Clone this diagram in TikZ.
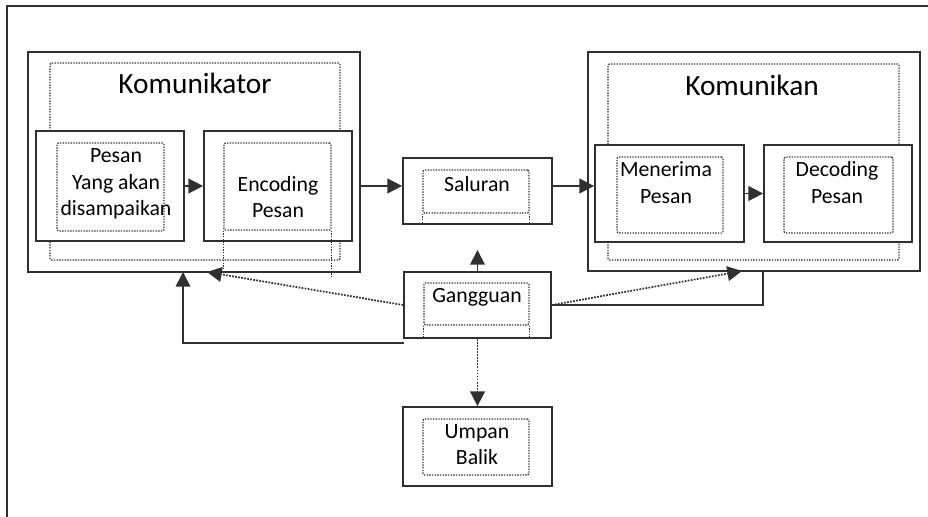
\documentclass[tikz,border=0pt]{standalone}
\usepackage{fontspec}
\setmainfont{Carlito}
\usepackage{tikz}
\usetikzlibrary{arrows.meta}
\definecolor{linegray}{HTML}{303030}

\begin{document}
\begin{tikzpicture}[x=0.75pt,y=-0.75pt,
  box/.style={draw=linegray, line width=1.3pt, inner sep=0pt},
  dotbox/.style={draw=linegray, densely dotted, line width=1pt, inner sep=0pt, rounded corners=1pt},
  lbl/.style={font=\fontsize{16.3}{20}\selectfont, align=center, inner sep=0pt, text=black},
  title/.style={font=\fontsize{22}{26}\selectfont, inner sep=0pt, text=black},
  arr/.style={draw=linegray, line width=1.3pt, -{Triangle[length=11pt,width=11pt]}},
  dotarr/.style={draw=linegray, densely dotted, line width=1.3pt, -{Triangle[length=11pt,width=11pt]}}]
\useasboundingbox (0,0) rectangle (928,517);

% outer frame (only top and left edge)
\draw[linegray, line width=1.3pt] (7,517) -- (7,6) -- (928,6);

% komunikator
\node[box, minimum width=249pt, minimum height=165pt] (komtor) at (194,162) {};
\node[dotbox, minimum width=217.5pt, minimum height=147.75pt] (komtordot) at (195,161.5) {};
\node[title] (komtortxt) at (195,83) {Komunikator};

\node[box, fill=white, minimum width=111pt, minimum height=82.5pt] (pesan) at (110,186) {};
\node[dotbox, minimum width=80.25pt, minimum height=66pt] (pesandot) at (110.5,187) {};
\node[lbl] (pesantxt) at (116,184) {Pesan\\Yang akan\\disampaikan};

\node[box, fill=white, minimum width=111pt, minimum height=82.5pt] (encoding) at (278,186) {};
\node[dotbox, minimum width=80.25pt, minimum height=65.25pt] (encodingdot) at (277.5,186.5) {};
\draw[linegray, densely dotted, line width=1pt] (encodingdot.south west) -- ++(0,42);
\draw[linegray, densely dotted, line width=1pt] (encodingdot.south east) -- ++(0,47);
\node[lbl] (encodingtxt) at (278,197) {Encoding\\Pesan};

% saluran
\node[box, minimum width=111.75pt, minimum height=49.5pt] (saluran) at (477.5,191) {};
\node[dotbox, minimum width=79.5pt, minimum height=32.25pt] (salurandot) at (476,191.5) {};
\draw[linegray, densely dotted, line width=1pt] (salurandot.south west) -- (salurandot.south west |- saluran.south);
\draw[linegray, densely dotted, line width=1pt] (salurandot.south east) -- (salurandot.south east |- saluran.south);
\node[lbl] (salurantxt) at (477,184) {Saluran};

% komunikan
\node[box, minimum width=249pt, minimum height=164.25pt] (komkan) at (754,161.5) {};
\node[dotbox, minimum width=218.25pt, minimum height=147pt] (komkandot) at (753.5,162) {};
\node[title] (komkantxt) at (752,85) {Komunikan};

\node[box, fill=white, minimum width=111.75pt, minimum height=72.75pt] (menerima) at (669.5,193.5) {};
\node[dotbox, minimum width=79.5pt, minimum height=57pt] (menerimadot) at (670,195) {};
\node[lbl] (menerimatxt) at (666,182.5) {Menerima\\Pesan};

\node[box, fill=white, minimum width=111pt, minimum height=72.75pt] (decoding) at (838,193.5) {};
\node[dotbox, minimum width=81.75pt, minimum height=57pt] (decodingdot) at (838.5,195) {};
\node[lbl] (decodingtxt) at (837,182.5) {Decoding\\Pesan};

% gangguan
\node[box, minimum width=110.25pt, minimum height=49.5pt] (gangguan) at (477.5,305) {};
\node[dotbox, minimum width=78.75pt, minimum height=31.5pt] (gangguandot) at (476.5,304) {};
\draw[linegray, densely dotted, line width=1pt] (gangguandot.south west) -- (gangguandot.south west |- gangguan.south);
\draw[linegray, densely dotted, line width=1pt] (gangguandot.south east) -- (gangguandot.south east |- gangguan.south);
\node[lbl] (gangguantxt) at (477,297) {Gangguan};

% umpan balik
\node[box, minimum width=111.75pt, minimum height=59.25pt] (umpan) at (477.5,446.5) {};
\node[dotbox, minimum width=79.5pt, minimum height=42pt] (umpandot) at (476,447) {};
\node[lbl] (umpantxt) at (477,444.5) {Umpan\\Balik};

% free ends
\coordinate (gup) at (477.5,250);
\coordinate (ktorin) at (207,272);
\coordinate (fbstart) at (404,343);
\coordinate (fbin) at (183,272);
\coordinate (kkanin) at (742,271);

% arrows
\draw[arr] (pesan) -- (encoding);
\draw[arr] (komtor.east |- encoding) -- (saluran.west |- encoding);
\draw[arr] (saluran.east |- encoding) -- (menerima.west |- encoding);
\draw[arr] (menerima) -- (decoding);
\draw[arr] (gangguan.north) -- (gup);
\draw[dotarr] (gangguan.west) -- (ktorin);
\draw[arr] (fbstart) -| (fbin);
\draw[dotarr] (gangguan.east) -- (kkanin);
\draw[linegray, line width=1.3pt] (gangguan.east) -| (komkan.south -| decoding.west);
\draw[dotarr] (gangguan.south) -- (umpan.north);
\end{tikzpicture}
\end{document}
